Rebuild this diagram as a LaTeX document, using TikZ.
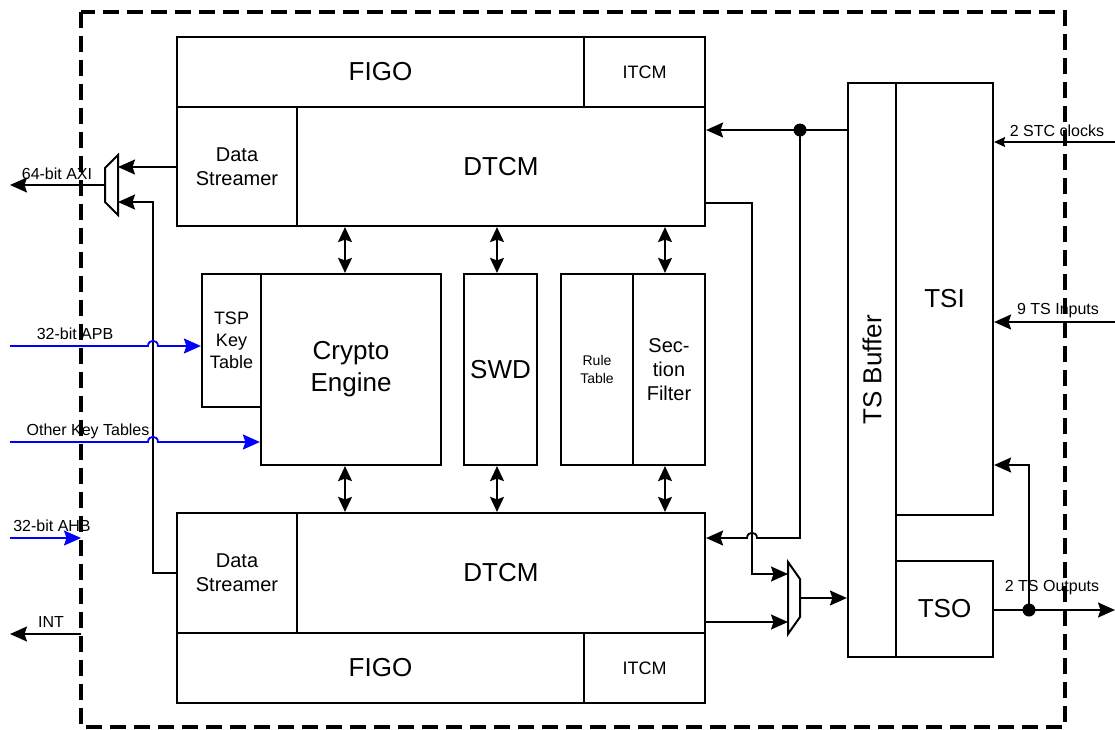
\documentclass[tikz,border=0pt]{standalone}
\usepackage{fontspec}
\setmainfont{Liberation Sans}
\usetikzlibrary{arrows.meta}
\begin{document}
\begin{tikzpicture}[x=1pt,y=-1pt,
  blk/.style={draw, line width=2.2pt, inner sep=0pt, align=center},
  fbig/.style={font=\fontsize{26}{32}\selectfont},
  fmid/.style={font=\fontsize{20}{24}\selectfont},
  fsm/.style={font=\fontsize{18}{22}\selectfont},
  ftiny/.style={font=\fontsize{14}{18}\selectfont},
  wire/.style={line width=1.8pt},
  arr/.style={wire, -{Stealth[length=17pt,width=15pt,inset=2.5pt]}},
  darr/.style={wire, {Stealth[length=15pt,width=14pt,inset=2.5pt]}-{Stealth[length=15pt,width=14pt,inset=2.5pt]}},
  sarr/.style={line width=1.2pt, -{Stealth[length=11pt,width=10pt,inset=1.5pt]}},
  barr/.style={arr, blue},
  sig/.style={font=\fontsize{16}{18}\selectfont, inner sep=1pt},
  jdot/.style={circle, fill, inner sep=0pt, minimum size=13pt}
]
\useasboundingbox (0,0) rectangle (1115,729);
% border
\draw[line width=3.2pt, dash pattern=on 16pt off 8pt] (81,12) rectangle (1065,727);

% top memory blocks
\node[blk, fbig, minimum width=407, minimum height=70] (figoT) at (380.5,72) {FIGO};
\node[blk, fsm, minimum width=121, minimum height=70] (itcmT) at (644.5,72) {ITCM};
\node[blk, fmid, minimum width=120, minimum height=119] (dsT) at (237,166.5) {Data\\Streamer};
\node[blk, fbig, minimum width=408, minimum height=119] (dtT) at (501,166.5) {DTCM};

% middle blocks
\node[blk, fsm, minimum width=59, minimum height=133] (tsp) at (231.5,340.5) {TSP\\Key\\Table};
\node[blk, fbig, minimum width=180, minimum height=191] (cry) at (351,369.5) {Crypto\\Engine};
\node[blk, fbig, minimum width=73, minimum height=191] (swd) at (500.5,369.5) {SWD};
\node[blk, ftiny, minimum width=72, minimum height=191] (rule) at (597,369.5) {Rule\\Table};
\node[blk, fmid, minimum width=72, minimum height=191] (secf) at (669,369.5) {Sec-\\tion\\Filter};

% bottom memory blocks
\node[blk, fmid, minimum width=120, minimum height=120] (dsB) at (237,573) {Data\\Streamer};
\node[blk, fbig, minimum width=408, minimum height=120] (dtB) at (501,573) {DTCM};
\node[blk, fbig, minimum width=407, minimum height=70] (figoB) at (380.5,668) {FIGO};
\node[blk, fsm, minimum width=121, minimum height=70] (itcmB) at (644.5,668) {ITCM};

% TS blocks
\node[blk, minimum width=48, minimum height=574] (tsb) at (872,370) {};
\node[fbig, rotate=90, inner sep=0pt] (tsbt) at (tsb.center) {TS Buffer};
\node[blk, fbig, minimum width=97, minimum height=432] (tsi) at (944.5,299) {TSI};
\node[blk, fbig, minimum width=97, minimum height=96] (tso) at (944.5,609) {TSO};

% double arrows
\coordinate (xa) at (345,0);
\coordinate (xb) at (497,0);
\coordinate (xc) at (665,0);
\draw[darr] (dtT.south -| xa) -- (cry.north -| xa);
\draw[darr] (dtT.south -| xb) -- (swd.north -| xb);
\draw[darr] (dtT.south -| xc) -- (secf.north -| xc);
\draw[darr] (cry.south -| xa) -- (dtB.north -| xa);
\draw[darr] (swd.south -| xb) -- (dtB.north -| xb);
\draw[darr] (secf.south -| xc) -- (dtB.north -| xc);

% left mux
\draw[line width=2pt] (105,168) -- (118,155) -- (118,215) -- (105,202) -- cycle;
\coordinate (muxAo) at (105,185);
\coordinate (muxAi1) at (118,167);
\coordinate (muxAi2) at (118,202);
\coordinate (axiEnd) at (10,185);
\draw[arr] (dsT.west |- muxAi1) -- (muxAi1);
\draw[arr] (dsB.west) -- (153,573) -- (153,202) -- (muxAi2);
\draw[arr] (muxAo) -- (axiEnd);
\node[sig] (axiL) at (57,174) {64-bit AXI};

% left blue inputs
\coordinate (apbS) at (10,346);
\coordinate (okS) at (10,442);
\coordinate (ahbS) at (10,538);
\draw[barr] (apbS) -- (148,346) .. controls (148,339) and (158,339) .. (158,346) -- (tsp.west |- apbS);
\node[sig] (apbL) at (75,334) {32-bit APB};
\draw[barr] (okS) -- (148,442) .. controls (148,435) and (158,435) .. (158,442) -- (cry.west |- okS);
\node[sig] (okL) at (88,431) {Other Key Tables};
\draw[barr] (ahbS) -- (81,538);
\node[sig] (ahbL) at (52,526) {32-bit AHB};
\coordinate (intS) at (81,634);
\coordinate (intE) at (10,634);
\draw[arr] (intS) -- (intE);
\node[sig] (intL) at (51,622) {INT};

% right internal
\node[jdot] (dotA) at (800,130) {};
\draw[arr] (tsb.west |- dotA) -- (dtT.east |- dotA);
\draw[arr] (dotA.center) -- (800,538) -- (757,538) .. controls (757,531) and (747,531) .. (747,538) -- (dtB.east |- 0,538);
% bottom mux
\draw[line width=2pt] (788,562) -- (800,579) -- (800,617) -- (788,634) -- cycle;
\coordinate (muxBi1) at (788,574);
\coordinate (muxBi2) at (788,622);
\coordinate (muxBo) at (800,598);
\draw[arr] (dtT.east |- 0,203) -- (752,203) -- (752,574) -- (muxBi1);
\draw[arr] (dtB.east |- muxBi2) -- (muxBi2);
\draw[arr] (muxBo) -- (tsb.west |- muxBo);

% right external
\coordinate (stcS) at (1115,142);
\coordinate (tsinS) at (1115,322);
\draw[sarr] (stcS) -- (tsi.east |- stcS);
\node[sig] (stcL) at (1057,131) {2 STC clocks};
\draw[arr] (tsinS) -- (tsi.east |- tsinS);
\node[sig] (tsinL) at (1058,311) {9 TS Inputs};
\node[jdot] (dotB) at (1029,610) {};
\coordinate (tsoutE) at (1115,610);
\draw[arr] (tso.east |- dotB) -- (tsoutE);
\draw[arr] (dotB.center) -- (1029,465) -- (tsi.east |- 0,465);
\node[sig] (tsoutL) at (1052,588) {2 TS Outputs};
\end{tikzpicture}
\end{document}
